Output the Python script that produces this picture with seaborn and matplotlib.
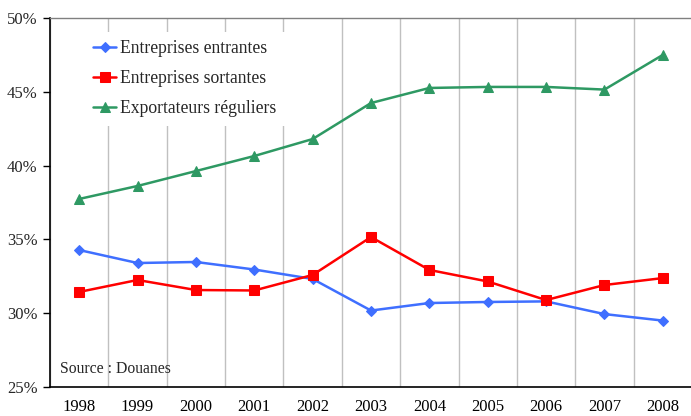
import numpy as np
import pandas as pd
import matplotlib
matplotlib.use("Agg")
import matplotlib.pyplot as plt
import seaborn as sns

# Data (share in %)
years = ["1998", "1999", "2000", "2001", "2002", "2003", "2004", "2005", "2006", "2007", "2008"]
entrantes = [34.28, 33.40, 33.47, 32.96, 32.32, 30.18, 30.69, 30.76, 30.80, 29.94, 29.50]
sortantes = [31.44, 32.25, 31.57, 31.54, 32.59, 35.16, 32.93, 32.15, 30.89, 31.91, 32.38]
reguliers = [37.74, 38.62, 39.63, 40.65, 41.80, 44.24, 45.26, 45.33, 45.33, 45.15, 47.50]

series_names = ["Entreprises entrantes", "Entreprises sortantes", "Exportateurs réguliers"]
y_ticks = [25, 30, 35, 40, 45, 50]

sns.set_style("white")
plt.rcParams["font.family"] = ["Liberation Serif", "DejaVu Serif"]

fig = plt.figure(figsize=(6.91, 4.16), dpi=100)
ax = fig.add_axes([50 / 691, 1 - 387 / 416, 642 / 691, 369 / 416])

x = np.arange(len(years))
styles = [
    (entrantes, "#3F6FFF", "D", 5),
    (sortantes, "#FF0000", "s", 7),
    (reguliers, "#2E9963", "^", 7),
]
for name, (vals, color, marker, ms) in zip(series_names, styles):
    df = pd.DataFrame({"x": x, "y": vals})
    sns.lineplot(data=df, x="x", y="y", ax=ax, color=color, marker=marker,
                 markersize=ms, markeredgecolor=color, linewidth=1.8, label=name)

ax.set_xlim(-0.5, len(years) - 0.5)
ax.set_ylim(25, 50)
ax.set_yticks(y_ticks)
ax.set_yticklabels([f"{v}%" for v in y_ticks], fontsize=12)
ax.set_xticks(x)
ax.set_xticklabels(years, fontsize=12)
ax.set_xticks(np.arange(-0.5, len(years)), minor=True)
ax.tick_params(axis="x", which="major", length=0, pad=8.5, colors="black")
ax.tick_params(axis="x", which="minor", length=5, width=1, color="black", direction="out")
ax.tick_params(axis="y", which="major", length=5, width=1, color="black", direction="out", left=True, pad=4)
ax.grid(False)
ax.grid(True, axis="x", which="minor", color="#C0C0C0", linewidth=1)
ax.set_xlabel("")
ax.set_ylabel("")

for side in ["left", "bottom"]:
    ax.spines[side].set_color("black")
    ax.spines[side].set_linewidth(1.2)
ax.spines["top"].set_color("#808080")
ax.spines["top"].set_linewidth(1)
ax.spines["right"].set_visible(False)

leg = ax.legend(loc="upper left", bbox_to_anchor=(0.04, 0.987), fontsize=12.7,
                frameon=True, facecolor="white", edgecolor="none", framealpha=1,
                handlelength=1.3, handletextpad=0.2, labelspacing=0.72,
                fancybox=False, borderpad=0.5)

ax.text(0.015, 0.027, "Source : Douanes", transform=ax.transAxes, fontsize=11.3, va="bottom")

fig.savefig("out.png", dpi=100)
